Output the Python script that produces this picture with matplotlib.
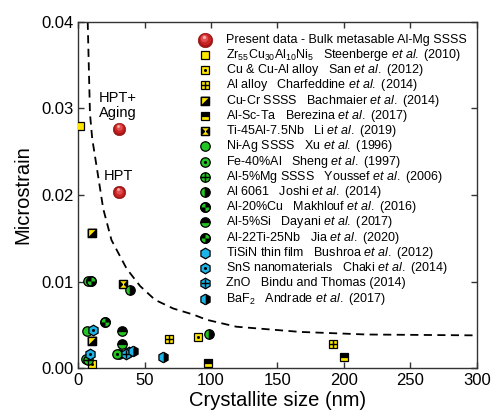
import matplotlib
matplotlib.use("Agg")
import matplotlib.pyplot as plt
from matplotlib.path import Path
from matplotlib.transforms import offset_copy
import numpy as np

plt.rcParams['font.family'] = ['Liberation Sans', 'DejaVu Sans']
plt.rcParams['mathtext.fontset'] = 'custom'
plt.rcParams['mathtext.rm'] = 'Liberation Sans'
plt.rcParams['mathtext.it'] = 'Liberation Sans:italic'
plt.rcParams['mathtext.bf'] = 'Liberation Sans:bold'

# ---------------- data ----------------
present_x = [31, 31]
present_y = [0.0276, 0.0203]
steenberge_x = [1.5]
steenberge_y = [0.0280]
san_x = [10.1, 90.4]
san_y = [0.0005, 0.0036]
charfeddine_x = [68, 192]
charfeddine_y = [0.0034, 0.0028]
bachmaier_x = [10.1, 10.1]
bachmaier_y = [0.0156, 0.0031]
berezina_x = [98, 200]
berezina_y = [0.0006, 0.0013]
li_x = [33.4]
li_y = [0.0097]
xu_x = [6.8, 5.8, 7.5, 30.5]
xu_y = [0.0043, 0.0011, 0.0101, 0.0017]
sheng_x = [29.5]
sheng_y = [0.0016]
youssef_x = [7.6]
youssef_y = [0.0009]
joshi_x = [38.9, 98.7]
joshi_y = [0.0090, 0.0040]
makhlouf_x = [20.1]
makhlouf_y = [0.0053]
dayani_x = [32.7, 32.7]
dayani_y = [0.0043, 0.0028]
jia_x = [9.8]
jia_y = [0.0101]
tisin_x = [38.5]
tisin_y = [0.0019]
sns_x = [8.8, 11.3]
sns_y = [0.00165, 0.0044]
zno_x = [36.2]
zno_y = [0.0017]
baf2_x = [41, 64]
baf2_y = [0.0020, 0.0013]

guide_x = [7.1, 8.8, 10.5, 13.8, 18.8, 25, 36.4, 46.5, 57.8, 71.5, 86.6, 96.7, 119, 167, 217, 300]
guide_y = [0.040, 0.0294, 0.0265, 0.0233, 0.0184, 0.0148, 0.0115, 0.0095, 0.0079, 0.0069,
           0.0062, 0.0056, 0.0048, 0.0042, 0.0039, 0.0038]

labels = [
    "Present data - Bulk metasable Al-Mg SSSS",
    r"Zr$_{55}$Cu$_{30}$Al$_{10}$Ni$_{5}$   Steenberge $\it{et\ al.}$ (2010)",
    r"Cu & Cu-Al alloy   San $\it{et\ al.}$ (2012)",
    r"Al alloy   Charfeddine $\it{et\ al.}$ (2014)",
    r"Cu-Cr SSSS   Bachmaier $\it{et\ al.}$ (2014)",
    r"Al-Sc-Ta   Berezina $\it{et\ al.}$ (2017)",
    r"Ti-45Al-7.5Nb   Li $\it{et\ al.}$ (2019)",
    r"Ni-Ag SSSS   Xu $\it{et\ al.}$ (1996)",
    r"Fe-40%Al   Sheng $\it{et\ al.}$ (1997)",
    r"Al-5%Mg SSSS   Youssef $\it{et\ al.}$ (2006)",
    r"Al 6061   Joshi $\it{et\ al.}$ (2014)",
    r"Al-20%Cu   Makhlouf $\it{et\ al.}$ (2016)",
    r"Al-5%Si   Dayani $\it{et\ al.}$ (2017)",
    r"Al-22Ti-25Nb   Jia $\it{et\ al.}$ (2020)",
    r"TiSiN thin film   Bushroa $\it{et\ al.}$ (2012)",
    r"SnS nanomaterials   Chaki $\it{et\ al.}$ (2014)",
    "ZnO   Bindu and Thomas (2014)",
    r"BaF$_{2}$   Andrade $\it{et\ al.}$ (2017)",
]

# ---------------- styles ----------------
Y = '#ffe600'
G = '#22c322'
C = '#1cb4e6'
K = 'black'

tri_ul = Path([(-1, 1), (1, 1), (-1, -1), (-1, 1)], [Path.MOVETO, Path.LINETO, Path.LINETO, Path.CLOSEPOLY])
bowtie = Path([(-1, 1), (0, 0), (-1, -1), (-1, 1), (1, 1), (0, 0), (1, -1), (1, 1)],
              [Path.MOVETO, Path.LINETO, Path.LINETO, Path.CLOSEPOLY,
               Path.MOVETO, Path.LINETO, Path.LINETO, Path.CLOSEPOLY])
wedge_a = Path.make_compound_path(Path.wedge(0, 90), Path.wedge(180, 270))
wedge_b = Path.make_compound_path(Path.wedge(90, 180), Path.wedge(270, 360))

SQ = 6.4
CI = 6.8
HX = 7.6
EW = 0.9

def sq(face):
    return dict(marker='s', ms=SQ, mfc=face, mec=K, mew=EW)

def ci(face):
    return dict(marker='o', ms=CI, mfc=face, mec=K, mew=EW)

def hx(face):
    return dict(marker='h', ms=HX, mfc=face, mec=K, mew=EW)

dot = dict(marker='o', ms=2.2, mfc=K, mec=K, mew=0)
plus_sq = dict(marker='+', ms=SQ, mec=K, mew=1.0)
plus_ci = dict(marker='+', ms=CI, mec=K, mew=1.0)
plus_hx = dict(marker='+', ms=HX * 0.85, mec=K, mew=1.0)

styles = {
    'steenberge': [sq(Y)],
    'san': [sq(Y), dot],
    'charfeddine': [sq(Y), plus_sq],
    'bachmaier': [sq(K), dict(marker=tri_ul, ms=SQ, mfc=Y, mec=K, mew=EW * 0.6), dict(marker='s', ms=SQ, mfc='none', mec=K, mew=EW)],
    'berezina': [dict(marker='s', ms=SQ, mfc=K, mfcalt=Y, fillstyle='top', mec=K, mew=EW)],
    'li': [sq(Y), dict(marker=bowtie, ms=SQ, mfc=K, mec=K, mew=0), dict(marker='s', ms=SQ, mfc='none', mec=K, mew=EW)],
    'xu': [ci(G)],
    'sheng': [ci(G), dot],
    'youssef': [ci(G), plus_ci],
    'joshi': [dict(marker='o', ms=CI, mfc=G, mfcalt=K, fillstyle='left', mec=K, mew=EW)],
    'makhlouf': [ci(G), dict(marker=wedge_a, ms=CI, mfc=K, mec=K, mew=0), dict(marker='o', ms=CI, mfc='none', mec=K, mew=EW)],
    'dayani': [dict(marker='o', ms=CI, mfc=K, mfcalt=G, fillstyle='top', mec=K, mew=EW)],
    'jia': [ci(G), dict(marker=wedge_b, ms=CI, mfc=K, mec=K, mew=0), dict(marker='o', ms=CI, mfc='none', mec=K, mew=EW)],
    'tisin': [hx(C)],
    'sns': [hx(C), dot],
    'zno': [hx(C), plus_hx],
    'baf2': [dict(marker='h', ms=HX, mfc=C, mfcalt=K, fillstyle='left', mec=K, mew=EW)],
}

series = [
    ('steenberge', steenberge_x, steenberge_y),
    ('san', san_x, san_y),
    ('charfeddine', charfeddine_x, charfeddine_y),
    ('bachmaier', bachmaier_x, bachmaier_y),
    ('berezina', berezina_x, berezina_y),
    ('li', li_x, li_y),
    ('xu', xu_x, xu_y),
    ('sheng', sheng_x, sheng_y),
    ('youssef', youssef_x, youssef_y),
    ('joshi', joshi_x, joshi_y),
    ('makhlouf', makhlouf_x, makhlouf_y),
    ('dayani', dayani_x, dayani_y),
    ('jia', jia_x, jia_y),
    ('tisin', tisin_x, tisin_y),
    ('sns', sns_x, sns_y),
    ('zno', zno_x, zno_y),
    ('baf2', baf2_x, baf2_y),
]

fig = plt.figure(figsize=(4.92, 4.20), dpi=100)
ax = fig.add_axes([0.1591, 0.1231, 0.8098, 0.8252])

def draw(key, xs, ys, **kw):
    for layer in styles[key]:
        ax.plot(xs, ys, ls='none', **layer, **kw)

def draw_sphere(xs, ys, base_ms=9.0, **kw):
    tr = kw.pop('transform', ax.transData)
    ax.plot(xs, ys, ls='none', marker='o', ms=base_ms, mfc='#a81414', mec='#8a0e0e', mew=0.4, transform=tr, **kw)
    ax.plot(xs, ys, ls='none', marker='o', ms=base_ms * 0.78, mfc='#c92525', mew=0,
            transform=offset_copy(tr, fig, x=-0.3, y=0.5, units='points'), **kw)
    ax.plot(xs, ys, ls='none', marker='o', ms=base_ms * 0.5, mfc='#e05050', mew=0,
            transform=offset_copy(tr, fig, x=-0.6, y=1.2, units='points'), **kw)
    ax.plot(xs, ys, ls='none', marker='o', ms=base_ms * 0.22, mfc='#f5b0b0', mew=0,
            transform=offset_copy(tr, fig, x=-0.8, y=2.2, units='points'), **kw)

# guide curve
ax.plot(guide_x, guide_y, color='black', lw=1.3, ls=(0, (4.5, 3)), zorder=1)

for key, xs, ys in series:
    draw(key, xs, ys, zorder=3)
draw_sphere(present_x, present_y, zorder=4)

ax.text(30, 0.0303, "HPT+\nAging", ha='center', va='center', fontsize=10.5, linespacing=1.05)
ax.text(30, 0.0222, "HPT", ha='center', va='center', fontsize=10.5)

# legend drawn manually
x_m = 0.318
x_t = 0.370
y0_px = 39.6
dy_px = 15.24
ax_top, ax_bot = 21.7, 368.3
keys = ['present'] + [s[0] for s in series]
for i, (key, lab) in enumerate(zip(keys, labels)):
    ypix = y0_px + i * dy_px
    yf = (ax_bot - ypix) / (ax_bot - ax_top)
    if key == 'present':
        draw_sphere([x_m], [yf], base_ms=10.5, transform=ax.transAxes, clip_on=False, zorder=5)
    else:
        for layer in styles[key]:
            ax.plot([x_m], [yf], ls='none', transform=ax.transAxes, clip_on=False, zorder=5, **layer)
    ax.text(x_t, yf, lab, transform=ax.transAxes, ha='left', va='center', fontsize=9)

ax.set_xlim(0, 300)
ax.set_ylim(0, 0.04)
ax.set_xticks([0, 50, 100, 150, 200, 250, 300])
ax.set_yticks([0.0, 0.01, 0.02, 0.03, 0.04])
ax.set_yticklabels(['0.00', '0.01', '0.02', '0.03', '0.04'])
ax.tick_params(direction='in', top=True, right=True, length=4, width=1, labelsize=12, color='#333333')
for sp in ax.spines.values():
    sp.set_color('#333333')
    sp.set_linewidth(1.0)
ax.set_xlabel("Crystallite size (nm)", fontsize=14.5, labelpad=2)
ax.set_ylabel("Microstrain", fontsize=14.5, labelpad=6)

fig.savefig("out.png", dpi=100)
